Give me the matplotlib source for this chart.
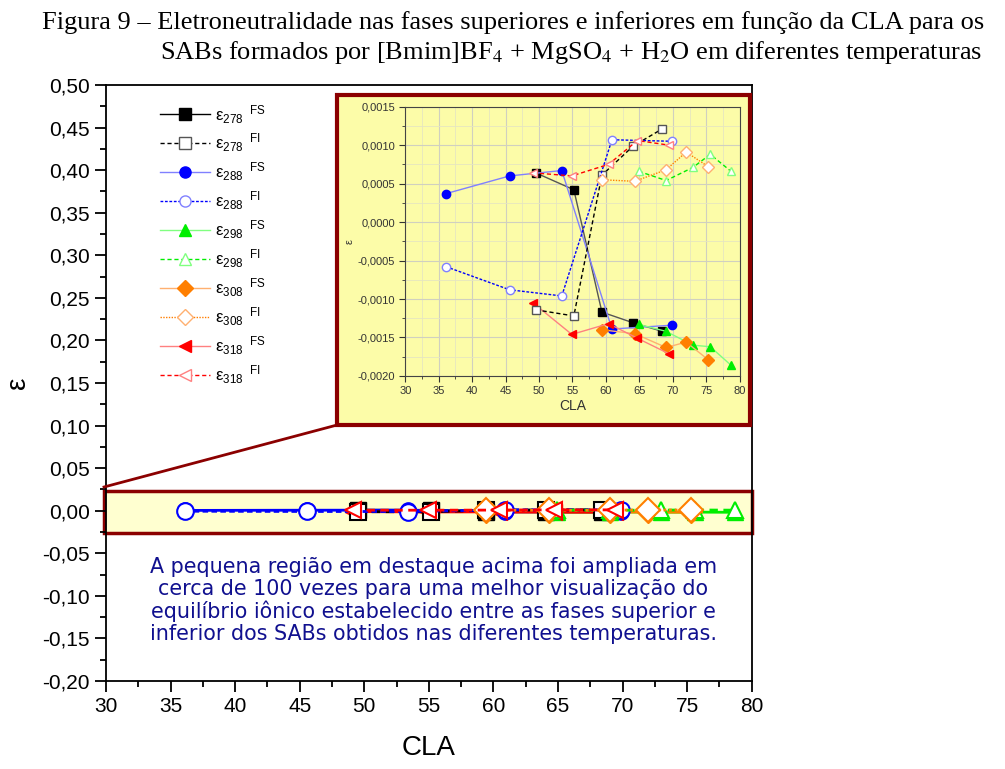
import numpy as np
import matplotlib
matplotlib.use('Agg')
import matplotlib.pyplot as plt
from matplotlib.lines import Line2D
from matplotlib.patches import Rectangle
from matplotlib.ticker import MultipleLocator, FuncFormatter

plt.rcParams['font.family'] = ['Liberation Sans', 'DejaVu Sans']
plt.rcParams['mathtext.fontset'] = 'custom'
plt.rcParams['mathtext.rm'] = 'Liberation Sans'
plt.rcParams['mathtext.it'] = 'Liberation Sans:italic'

# CLA of each tie line, one list per temperature (K)
cla_278 = [49.5, 55.2, 59.4, 64.1, 68.4]
cla_288 = [36.1, 45.6, 53.4, 60.9, 69.9]
cla_298 = [64.9, 69.0, 73.0, 75.6, 78.7]
cla_308 = [59.4, 64.3, 69.0, 72.0, 75.3]
cla_318 = [49.1, 54.9, 60.4, 64.7, 69.4]

# electroneutrality, top phase (FS) and bottom phase (FI)
e278_fs = [0.00064, 0.00042, -0.00117, -0.00131, -0.00142]
e278_fi = [-0.00114, -0.00122, 0.00061, 0.00099, 0.00121]
e288_fs = [0.00037, 0.00060, 0.00067, -0.00139, -0.00134]
e288_fi = [-0.00058, -0.00088, -0.00096, 0.00107, 0.00105]
e298_fs = [-0.00133, -0.00142, -0.00160, -0.00162, -0.00186]
e298_fi = [0.00066, 0.00054, 0.00071, 0.00088, 0.00066]
e308_fs = [-0.00140, -0.00145, -0.00163, -0.00156, -0.00179]
e308_fi = [0.00055, 0.00053, 0.00068, 0.00091, 0.00072]
e318_fs = [-0.00105, -0.00146, -0.00132, -0.00151, -0.00171]
e318_fi = [0.00064, 0.00060, 0.00075, 0.00106, 0.00100]

temps = ['278', '288', '298', '308', '318']
cla = [cla_278, cla_288, cla_298, cla_308, cla_318]
eps_fs = [e278_fs, e288_fs, e298_fs, e308_fs, e318_fs]
eps_fi = [e278_fi, e288_fi, e298_fi, e308_fi, e318_fi]

# style per temperature: marker, full colour, light colour, FI linestyle
markers = ['s', 'o', '^', 'D', '<']
full_col = ['#000000', '#0000ff', '#00ee00', '#ff7f00', '#ff0000']
light_col = ['#555555', '#8080ff', '#80ff80', '#ffb070', '#ff8080']
fi_ls = [(0, (3, 2)), (0, (2, 1.2)), (0, (3, 2)), (0, (1, 1)), (0, (3, 2))]

main_yellow = '#ffffd0'
inset_yellow = '#fcfca8'
dark_red = '#8b0000'

fig = plt.figure(figsize=(10.05, 7.69), dpi=100)

fig.text(0.042, 0.971, 'Figura 9 – Eletroneutralidade nas fases superiores e inferiores em função da CLA para os',
         family='Liberation Serif', fontsize=19, va='center', ha='left')
fig.text(0.159, 0.932, 'SABs formados por [Bmim]BF$_4$ + MgSO$_4$ + H$_2$O em diferentes temperaturas',
         family='Liberation Serif', fontsize=19, va='center', ha='left',
         math_fontfamily='stix')

ax = fig.add_axes([0.1055, 0.1144, 0.6425, 0.7751])

# highlighted band around zero
ax.add_patch(Rectangle((29.85, -0.026), 50.15, 0.0495, facecolor=main_yellow,
                       edgecolor=dark_red, lw=2.5, zorder=1, clip_on=False))

for i in range(5):
    ax.plot(cla[i], eps_fs[i], ls='-', color=full_col[i], lw=2, marker=markers[i],
            ms=11, mfc=full_col[i], mec=full_col[i], zorder=3)
for i in range(5):
    ax.plot(cla[i], eps_fi[i], ls=fi_ls[i], color=full_col[i], lw=2, marker=markers[i],
            ms=12, mfc='white', mec=full_col[i], mew=1.5, zorder=4)

ax.set_xlim(30, 80)
ax.set_ylim(-0.20, 0.50)
ax.xaxis.set_major_locator(MultipleLocator(5))
ax.xaxis.set_minor_locator(MultipleLocator(2.5))
ax.yaxis.set_major_locator(MultipleLocator(0.05))
ax.yaxis.set_minor_locator(MultipleLocator(0.025))


def comma2(v, pos):
    s = f'{v:.2f}'
    if s == '-0.00':
        s = '0.00'
    return s.replace('.', ',')


ax.yaxis.set_major_formatter(FuncFormatter(comma2))
ax.tick_params(which='major', direction='out', length=8, width=1.3, labelsize=15)
ax.tick_params(which='minor', direction='out', length=4, width=1.3)
for s in ax.spines.values():
    s.set_linewidth(1.3)
ax.set_xlabel('CLA', fontsize=20, labelpad=14)
ax.set_ylabel('ε', fontsize=20, labelpad=8)

# legend with thin proxy handles
handles = []
labels = []
for i in range(5):
    handles.append(Line2D([], [], ls='-', color=light_col[i] if i else 'black', lw=1,
                          marker=markers[i], ms=8, mfc=full_col[i], mec=full_col[i]))
    labels.append('ε$_{' + temps[i] + r'}$$^{\ \ \mathrm{FS}}$')
    handles.append(Line2D([], [], ls=fi_ls[i], color=full_col[i], lw=1,
                          marker=markers[i], ms=8, mfc='white', mec=light_col[i]))
    labels.append('ε$_{' + temps[i] + r'}$$^{\ \ \mathrm{FI}}$')
ax.legend(handles, labels, loc='upper left', bbox_to_anchor=(0.06, 0.995), frameon=False,
          fontsize=12, handlelength=3, handletextpad=0.3, labelspacing=0.38)

# inset frame and zoom line
fig.patches.append(Rectangle((0.3353, 0.4473), 0.411, 0.4292, transform=fig.transFigure,
                             facecolor=inset_yellow, edgecolor=dark_red, lw=3, zorder=2))
fig.lines.append(Line2D([0.1035, 0.3353], [0.3667, 0.4473], transform=fig.transFigure,
                        color=dark_red, lw=2))

ins = fig.add_axes([0.4033, 0.5111, 0.3327, 0.3502], zorder=3)
ins.set_facecolor(inset_yellow)
for i in range(5):
    ins.plot(cla[i], eps_fs[i], ls='-', color=light_col[i], lw=1, marker=markers[i],
             ms=6, mfc=full_col[i], mec=full_col[i], zorder=3)
for i in range(5):
    ins.plot(cla[i], eps_fi[i], ls=fi_ls[i], color=full_col[i], lw=1, marker=markers[i],
             ms=6, mfc='white', mec=light_col[i], zorder=4)
ins.set_xlim(30, 80)
ins.set_ylim(-0.0020, 0.0015)
ins.xaxis.set_major_locator(MultipleLocator(5))
ins.xaxis.set_minor_locator(MultipleLocator(2.5))
ins.yaxis.set_major_locator(MultipleLocator(0.0005))
ins.yaxis.set_minor_locator(MultipleLocator(0.00025))


def comma4(v, pos):
    s = f'{v:.4f}'
    if s == '-0.0000':
        s = '0.0000'
    return s.replace('.', ',')


ins.yaxis.set_major_formatter(FuncFormatter(comma4))
ins.grid(which='major', color='#d0d0c0', lw=0.8)
ins.grid(which='minor', color='#e6e6c0', lw=0.6)
ins.set_axisbelow(True)
ins.tick_params(which='major', direction='out', length=4, labelsize=8, colors='#333333')
ins.tick_params(which='minor', direction='out', length=2, colors='#333333')
for s in ins.spines.values():
    s.set_color('#444444')
ins.set_xlabel('CLA', fontsize=10, color='#333333', labelpad=2)
ins.set_ylabel('ε', fontsize=8, color='#333333', labelpad=2)

fig.text(0.431, 0.219,
         'A pequena região em destaque acima foi ampliada em\n'
         'cerca de 100 vezes para uma melhor visualização do\n'
         'equilíbrio iônico estabelecido entre as fases superior e\n'
         'inferior dos SABs obtidos nas diferentes temperaturas.',
         family='DejaVu Sans', fontsize=14.9, color='#10108f', ha='center', va='center',
         linespacing=1.1)

fig.savefig('out.png', dpi=100)
